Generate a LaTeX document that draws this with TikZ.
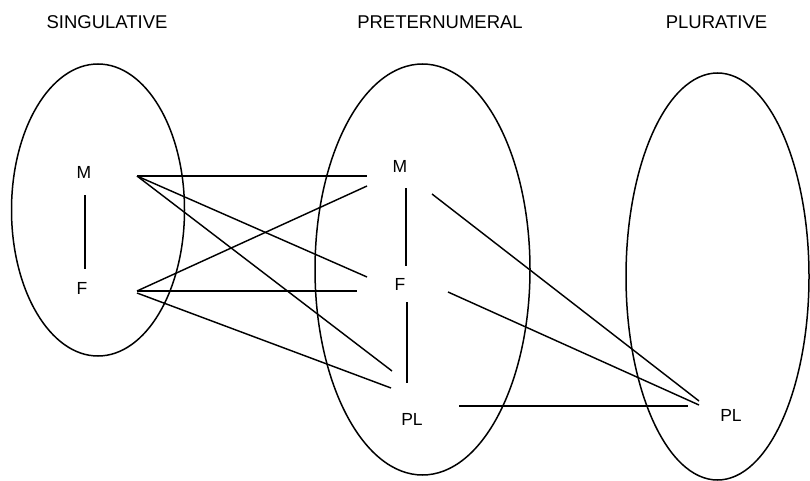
\documentclass[tikz,border=0pt]{standalone}
\usepackage{fontspec}
\setmainfont{Liberation Sans}
\usetikzlibrary{calc}
\begin{document}
\begin{tikzpicture}[x=1pt,y=-1pt,
  heading/.style={inner sep=0pt,font=\fontsize{18.5}{20}\selectfont},
  lab/.style={inner sep=0pt,font=\fontsize{17.5}{19}\selectfont},
  set/.style={draw=black,line width=1.5pt},
  link/.style={draw=black,line width=1.45pt}]
\useasboundingbox (0,0) rectangle (810,481);
% headings
\node[heading] (hS) at (107,22) {SINGULATIVE};
\node[heading] (hP) at (440,22) {PRETERNUMERAL};
\node[heading] (hR) at (716.5,22) {PLURATIVE};
% sets
\draw[set] (98,210) ellipse [x radius=86.5, y radius=146];
\draw[set] (422.5,269.5) ellipse [x radius=107.5, y radius=205.5];
\draw[set] (717.5,276.5) ellipse [x radius=91.5, y radius=203.5];
% labels
\node[lab] (sM) at (84,172) {M};
\node[lab] (sF) at (82,288) {F};
\node[lab] (pM) at (400,166) {M};
\node[lab] (pF) at (400,284) {F};
\node[lab] (pPL) at (412,419) {PL};
\node[lab] (rPL) at (731,415) {PL};
% connector ends
\coordinate (sM-s) at (85,195);
\coordinate (sF-n) at (85,269);
\coordinate (sM-e) at (137,176);
\coordinate (sF-e) at (137,291);
\coordinate (sF-e2) at (137,293);
\coordinate (pM-w1) at (367,176);
\coordinate (pM-w2) at (367,186);
\coordinate (pM-s) at (406,188);
\coordinate (pM-e) at (432,194);
\coordinate (pF-w1) at (367,277);
\coordinate (pF-w2) at (357,291);
\coordinate (pF-n) at (406,266);
\coordinate (pF-s) at (407,302);
\coordinate (pF-e) at (448,292);
\coordinate (pPL-w1) at (392,371);
\coordinate (pPL-w2) at (391,388);
\coordinate (pPL-n) at (407,383);
\coordinate (pPL-e) at (459,406);
\coordinate (rPL-w1) at (699,401);
\coordinate (rPL-w2) at (699,405);
\coordinate (rPL-w3) at (688,406);
% connectors
\draw[link] (sM-s) -- (sF-n);
\draw[link] (sM-e) -- (pM-w1);
\draw[link] (sM-e) -- (pF-w1);
\draw[link] (sM-e) -- (pPL-w1);
\draw[link] (sF-e) -- (pM-w2);
\draw[link] (sF-e) -- (pF-w2);
\draw[link] (sF-e2) -- (pPL-w2);
\draw[link] (pM-s) -- (pF-n);
\draw[link] (pF-s) -- (pPL-n);
\draw[link] (pM-e) -- (rPL-w1);
\draw[link] (pF-e) -- (rPL-w2);
\draw[link] (pPL-e) -- (rPL-w3);
\end{tikzpicture}
\end{document}
